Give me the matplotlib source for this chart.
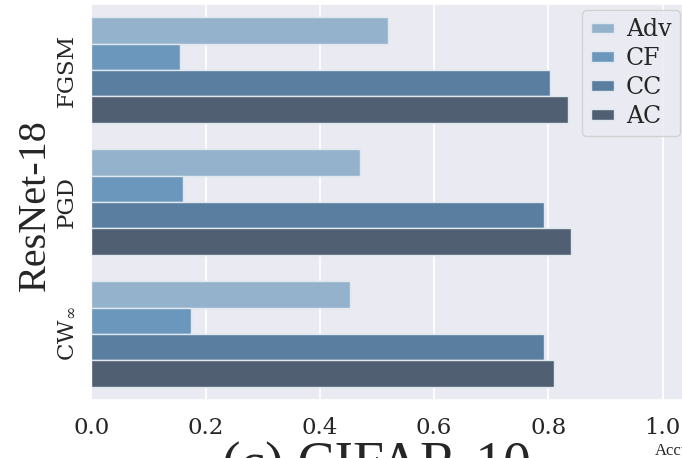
import numpy as np
import pandas as pd
import seaborn as sns
import matplotlib
matplotlib.use("Agg")
import matplotlib.pyplot as plt

attacks = ["FGSM", "PGD", r"CW$_\infty$"]
methods = ["Adv", "CF", "CC", "AC"]
acc_adv = [0.519, 0.471, 0.452]
acc_cf = [0.156, 0.160, 0.174]
acc_cc = [0.802, 0.792, 0.792]
acc_ac = [0.834, 0.839, 0.809]
colors = ["#94b2cb", "#6b97bd", "#5a7e9f", "#505f71"]
xticks = [0.0, 0.2, 0.4, 0.6, 0.8, 1.0]

sns.set_theme(style="darkgrid")
plt.rcParams["font.family"] = ["DejaVu Serif"]
plt.rcParams["mathtext.fontset"] = "dejavuserif"

rows = []
for m, vals in zip(methods, [acc_adv, acc_cf, acc_cc, acc_ac]):
    for a, v in zip(attacks, vals):
        rows.append({"attack": a, "method": m, "acc": v})
df = pd.DataFrame(rows)

fig = plt.figure(figsize=(6.82, 4.58), dpi=100)
ax = fig.add_axes([91.3 / 682, 1 - 400 / 458, 600 / 682, 396 / 458])

sns.barplot(data=df, y="attack", x="acc", hue="method", orient="h",
            palette=colors, saturation=1, ax=ax, edgecolor="#dfe7ef",
            linewidth=1.0, errorbar=None)

ax.set_xlim(0, 1.05)
ax.set_xticks(xticks)
ax.set_xticklabels([f"{t:.1f}" for t in xticks])
ax.set_xlabel("")
ax.set_ylabel("")
ax.tick_params(axis="x", labelsize=16.5, pad=6)
ax.tick_params(axis="y", labelsize=16.5, pad=4)
for lab in ax.get_yticklabels():
    lab.set_rotation(90)
    lab.set_va("center")
for g in ax.xaxis.get_gridlines():
    g.set_linewidth(1.3)

ax.legend(loc="upper right", bbox_to_anchor=(680 / 682, 1 - 10 / 458),
          bbox_transform=fig.transFigure, borderaxespad=0, fontsize=17,
          labelspacing=0.25, handlelength=1.0, handleheight=0.3,
          handletextpad=0.5, borderpad=0.35, frameon=True)

fig.text(35 / 682, 1 - 205 / 458, "ResNet-18", rotation=90, fontsize=29,
         family="Liberation Serif", ha="center", va="center")
fig.text(376 / 682, -0.05, "(c) CIFAR-10", fontsize=40,
         family="Liberation Serif", ha="center", va="baseline")
fig.text(655 / 682, 1 - 443 / 458, "Accuracy", fontsize=12,
         family="Liberation Serif", ha="left", va="top")

fig.savefig("out.png", dpi=100)
